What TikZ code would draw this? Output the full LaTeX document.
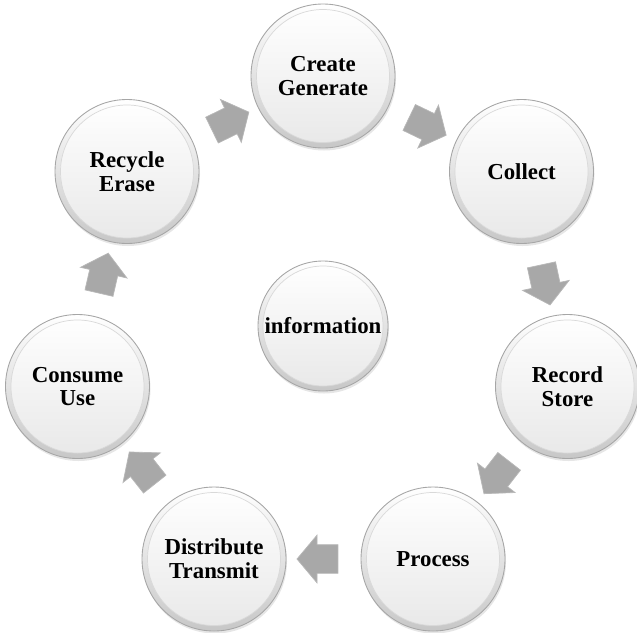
\documentclass[tikz,border=0pt]{standalone}
\usepackage{fontspec}
\setmainfont{Liberation Serif}
\usetikzlibrary{shapes.arrows, shadows}

\tikzset{
	knopf/.style={circle, minimum size=2.88cm, inner sep=0pt, align=center,
		draw=black!35, line width=0.5pt, top color=white, bottom color=black!22,
		drop shadow={opacity=0.2, shadow xshift=0.02cm, shadow yshift=-0.05cm},
		font=\fontsize{13}{13.5}\selectfont\bfseries,
		path picture={\draw[black!15, line width=0.4pt, top color=white, bottom color=black!9]
			(path picture bounding box.center) circle (1.33cm);}},
	kleinknopf/.style={knopf, minimum size=2.6cm,
		path picture={\draw[black!15, line width=0.4pt, top color=white, bottom color=black!9]
			(path picture bounding box.center) circle (1.2cm);}},
	pfeil/.style={single arrow, draw=black!28, fill=black!34, inner xsep=0pt, inner ysep=0.28cm,
		minimum height=0.82cm, single arrow head extend=0.19cm,
		single arrow tip angle=100, midway, sloped, allow upside down}
}

\begin{document}
\begin{tikzpicture}
	\useasboundingbox (0,0) rectangle (12.74,-12.64);

	% kreis
	\node[knopf] (create) at (6.46, -1.52) {Create\\Generate};
	\node[knopf] (collect) at (10.43, -3.43) {Collect};
	\node[knopf] (record) at (11.35, -7.73) {Record\\Store};
	\node[knopf] (process) at (8.66, -11.18) {Process};
	\node[knopf] (distribute) at (4.28, -11.18) {Distribute\\Transmit};
	\node[knopf] (consume) at (1.55, -7.73) {Consume\\Use};
	\node[knopf] (recycle) at (2.54, -3.43) {Recycle\\Erase};

	% mitte
	\node[kleinknopf] (info) at (6.46, -6.52) {information};

	% pfeile
	\path (create) -- (collect) node[pfeil] {};
	\path (collect) -- (record) node[pfeil] {};
	\path (record) -- (process) node[pfeil] {};
	\path (process) -- (distribute) node[pfeil] {};
	\path (distribute) -- (consume) node[pfeil] {};
	\path (consume) -- (recycle) node[pfeil] {};
	\path (recycle) -- (create) node[pfeil] {};
\end{tikzpicture}
\end{document}
